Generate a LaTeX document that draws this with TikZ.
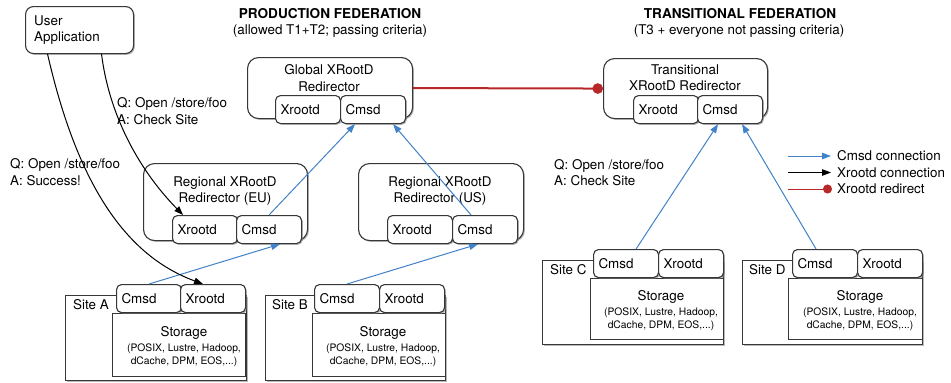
\documentclass[tikz,border=0pt]{standalone}
\usepackage{fontspec}
\setmainfont{TeX Gyre Heros}
\usetikzlibrary{arrows.meta,shadows}
\definecolor{boxline}{RGB}{55,55,55}
\definecolor{cmsdblue}{RGB}{66,130,200}
\definecolor{redir}{RGB}{185,40,40}
\begin{document}
\begin{tikzpicture}[x=1pt,y=-1pt,
  font=\fontsize{13.4}{16.3}\selectfont,
  shadowed/.style={drop shadow={shadow xshift=1.3pt,shadow yshift=-1.3pt,fill=black!50,opacity=0.55}},
  bigbox/.style={draw=boxline,line width=1.1pt,fill=white,rounded corners=11pt,anchor=north west,inner sep=0pt,shadowed},
  sub/.style={draw=boxline,line width=1.1pt,fill=white,rounded corners=5pt,anchor=north west,inner xsep=5pt,inner ysep=0pt,minimum width=65pt,minimum height=28pt,text width=55pt,align=left,shadowed},
  sitebox/.style={draw=boxline,line width=1.1pt,fill=white,anchor=north west,inner sep=0pt,shadowed},
  storebox/.style={draw=boxline,line width=1.1pt,fill=white,anchor=north west,inner sep=0pt},
  txt/.style={inner sep=0pt},
  small/.style={inner sep=0pt,font=\fontsize{10.3}{12.8}\selectfont,align=center},
  title/.style={inner sep=0pt,font=\fontsize{13.6}{16}\selectfont\bfseries},
  cmsdarrow/.style={draw=cmsdblue,line width=1pt,-{Triangle[length=9pt,width=6.5pt]}},
  xrdarrow/.style={draw=black,line width=1pt,-{Triangle[length=9pt,width=6.5pt]}},
  redirline/.style={draw=redir,line width=2pt,-{Circle[length=10.5pt]}}
]
\useasboundingbox[fill=white] (0,0) rectangle (951,383);

% titles
\node[title] (t1) at (330,14) {PRODUCTION FEDERATION};
\node[txt] (t1s) at (330,31) {(allowed T1+T2; passing criteria)};
\node[title] (t2) at (740,14) {TRANSITIONAL FEDERATION};
\node[txt] (t2s) at (739,31) {(T3 + everyone not passing criteria)};

% user application
\node[bigbox,rounded corners=8pt,minimum width=108pt,minimum height=47pt] (ua) at (25,6) {};
\node[txt,anchor=west,align=left] (uat) at (34,30) {User\\Application};

% global redirector
\node[bigbox,minimum width=165pt,minimum height=61pt] (glob) at (247,57) {};
\node[txt,align=center] (globt) at (329,78) {Global XRootD\\Redirector};
\node[sub] (gX) at (275,95) {Xrootd};
\node[sub] (gC) at (340,95) {Cmsd};

% transitional redirector
\node[bigbox,minimum width=164pt,minimum height=60pt] (trans) at (603,58) {};
\node[txt,align=center] (transt) at (685,77.5) {Transitional\\XRootD Redirector};
\node[sub] (tX) at (633,95) {Xrootd};
\node[sub] (tC) at (697,95) {Cmsd};

% regional EU
\node[bigbox,minimum width=164pt,minimum height=77pt] (eu) at (143,163) {};
\node[txt,align=center] (eut) at (225,191) {Regional XRootD\\Redirector (EU)};
\node[sub] (euX) at (172,215) {Xrootd};
\node[sub] (euC) at (236,215) {Cmsd};

% regional US
\node[bigbox,minimum width=165pt,minimum height=77pt] (us) at (358,163) {};
\node[txt,align=center] (ust) at (440,191) {Regional XRootD\\Redirector (US)};
\node[sub] (usX) at (387,215) {Xrootd};
\node[sub] (usC) at (452,215) {Cmsd};

% Site A
\node[sitebox,minimum width=181pt,minimum height=85pt] (sA) at (65,295) {};
\node[storebox,minimum width=133pt,minimum height=63pt] (sAs) at (112,313) {};
\node[txt,anchor=west] (sAl) at (73,305) {Site A};
\node[sub] (sAc) at (116,284) {Cmsd};
\node[sub] (sAx) at (180,284) {Xrootd};
\node[txt] (sAst) at (184,333) {Storage};
\node[small] (sAsm) at (184,355.5) {(POSIX, Lustre, Hadoop,\\dCache, DPM, EOS,...)};

% Site B
\node[sitebox,minimum width=180pt,minimum height=85pt] (sB) at (265,295) {};
\node[storebox,minimum width=133pt,minimum height=63pt] (sBs) at (312,313) {};
\node[txt,anchor=west] (sBl) at (272,305) {Site B};
\node[sub] (sBc) at (314,284) {Cmsd};
\node[sub] (sBx) at (379,284) {Xrootd};
\node[txt] (sBst) at (383,333) {Storage};
\node[small] (sBsm) at (383,355.5) {(POSIX, Lustre, Hadoop,\\dCache, DPM, EOS,...)};

% Site C
\node[sitebox,minimum width=181pt,minimum height=84pt] (sC) at (542,260) {};
\node[storebox,minimum width=133pt,minimum height=61pt] (sCs) at (590,278) {};
\node[txt,anchor=west] (sCl) at (550,270) {Site C};
\node[sub] (sCc) at (593,249) {Cmsd};
\node[sub] (sCx) at (658,249) {Xrootd};
\node[txt] (sCst) at (661,297) {Storage};
\node[small] (sCsm) at (661,319) {(POSIX, Lustre, Hadoop,\\dCache, DPM, EOS,...)};

% Site D
\node[sitebox,minimum width=180pt,minimum height=84pt] (sD) at (742,260) {};
\node[storebox,minimum width=134pt,minimum height=61pt] (sDs) at (788,278) {};
\node[txt,anchor=west] (sDl) at (749,270) {Site D};
\node[sub] (sDc) at (792,249) {Cmsd};
\node[sub] (sDx) at (857,249) {Xrootd};
\node[txt] (sDst) at (860,297) {Storage};
\node[small] (sDsm) at (860,319) {(POSIX, Lustre, Hadoop,\\dCache, DPM, EOS,...)};

% query labels
\node[txt,anchor=west,align=left] (q1) at (117,111) {Q: Open /store/foo\\A: Check Site};
\node[txt,anchor=west,align=left] (q2) at (10,172) {Q: Open /store/foo\\A: Success!};
\node[txt,anchor=west,align=left] (q3) at (554,172.5) {Q: Open /store/foo\\A: Check Site};

% redirect line
\draw[redirline] (glob.east) -- (trans.west);

% cmsd connections
\draw[cmsdarrow] (sAc.north) -- ([xshift=11pt]euC.south);
\draw[cmsdarrow] (euC.north) -- ([xshift=-18pt]gC.south);
\draw[cmsdarrow] ([xshift=-14pt]usC.north) -- ([xshift=20pt]gC.south);
\draw[cmsdarrow] (sBc.north) -- ([xshift=-7pt]usC.south);
\draw[cmsdarrow] ([xshift=10pt]sCc.north) -- ([xshift=-12pt]tC.south);
\draw[cmsdarrow] ([xshift=-9pt]sDc.north) -- ([xshift=12pt]tC.south);

% xrootd connections
\draw[xrdarrow] ([xshift=22pt]ua.south) .. controls +(7,57) and +(-47,-48) .. ([xshift=-22pt]euX.north);
\draw[xrdarrow] ([xshift=-32pt]ua.south) .. controls +(28,122) and +(-82,-30) .. ([xshift=-10pt]sAx.north);

% legend
\coordinate (l1a) at (788,156); \coordinate (l1b) at (831,156);
\coordinate (l2a) at (788,172.5); \coordinate (l2b) at (831,172.5);
\coordinate (l3a) at (788,189); \coordinate (l3b) at (832,189);
\draw[cmsdarrow] (l1a) -- (l1b);
\draw[xrdarrow] (l2a) -- (l2b);
\draw[draw=redir,line width=1pt,-{Circle[length=9pt]}] (l3a) -- (l3b);
\node[txt,anchor=west] (lg1) at (837,156) {Cmsd connection};
\node[txt,anchor=west] (lg2) at (837,172.5) {Xrootd connection};
\node[txt,anchor=west] (lg3) at (837,189) {Xrootd redirect};
\end{tikzpicture}
\end{document}
